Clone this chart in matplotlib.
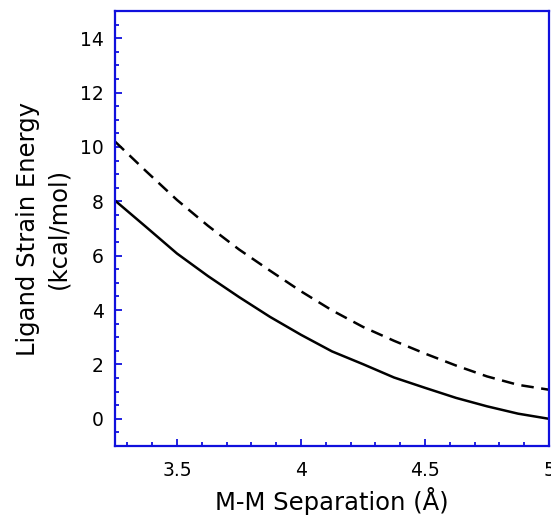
"""
Ligand strain energy vs metal-metal separation
"""

import numpy as np
import matplotlib
matplotlib.use('Agg')
import matplotlib.pyplot as plt
from matplotlib.ticker import MultipleLocator

# data
separation = [3.25, 3.375, 3.5, 3.625, 3.75, 3.875, 4.0, 4.125,
              4.25, 4.375, 4.5, 4.625, 4.75, 4.875, 5.0]
strain_solid = [8.03, 7.06, 6.08, 5.25, 4.48, 3.75, 3.09, 2.48,
                2.01, 1.52, 1.14, 0.77, 0.46, 0.19, 0.0]
strain_dashed = [10.2, 9.11, 8.05, 7.10, 6.23, 5.45, 4.69, 3.99,
                 3.38, 2.87, 2.40, 1.96, 1.56, 1.25, 1.07]

xticks = [3.5, 4, 4.5, 5]
xticklabels = ['3.5', '4', '4.5', '5']
yticks = [0, 2, 4, 6, 8, 10, 12, 14]

frame = '#1010dd'

fig = plt.figure(figsize=(5.51, 5.20), dpi=100)
ax = fig.add_axes([0.2087, 0.1423, 0.7877, 0.8365])

ax.plot(separation, strain_solid, '-', color='black', lw=1.8)
ax.plot(separation, strain_dashed, '--', color='black', lw=1.8,
        dashes=(5, 3))

ax.set_xlim(3.25, 5.0)
ax.set_ylim(-1, 15)
ax.set_xticks(xticks)
ax.set_xticklabels(xticklabels)
ax.set_yticks(yticks)
ax.xaxis.set_minor_locator(MultipleLocator(0.1))
ax.yaxis.set_minor_locator(MultipleLocator(0.5))

for s in ax.spines.values():
    s.set_color(frame)
    s.set_linewidth(1.6)

ax.tick_params(which='both', direction='in', color=frame, width=1.3,
               top=False, right=False, labelsize=13.5)
ax.tick_params(axis='x', pad=11)
ax.tick_params(axis='y', pad=8)
ax.tick_params(which='major', length=5)
ax.tick_params(which='minor', length=3)

ax.set_xlabel('M-M Separation (Å)', fontsize=17.5, labelpad=5)
ax.set_ylabel('Ligand Strain Energy\n(kcal/mol)', fontsize=17.5,
              labelpad=7, linespacing=1.35)

plt.savefig('out.png', dpi=100)
